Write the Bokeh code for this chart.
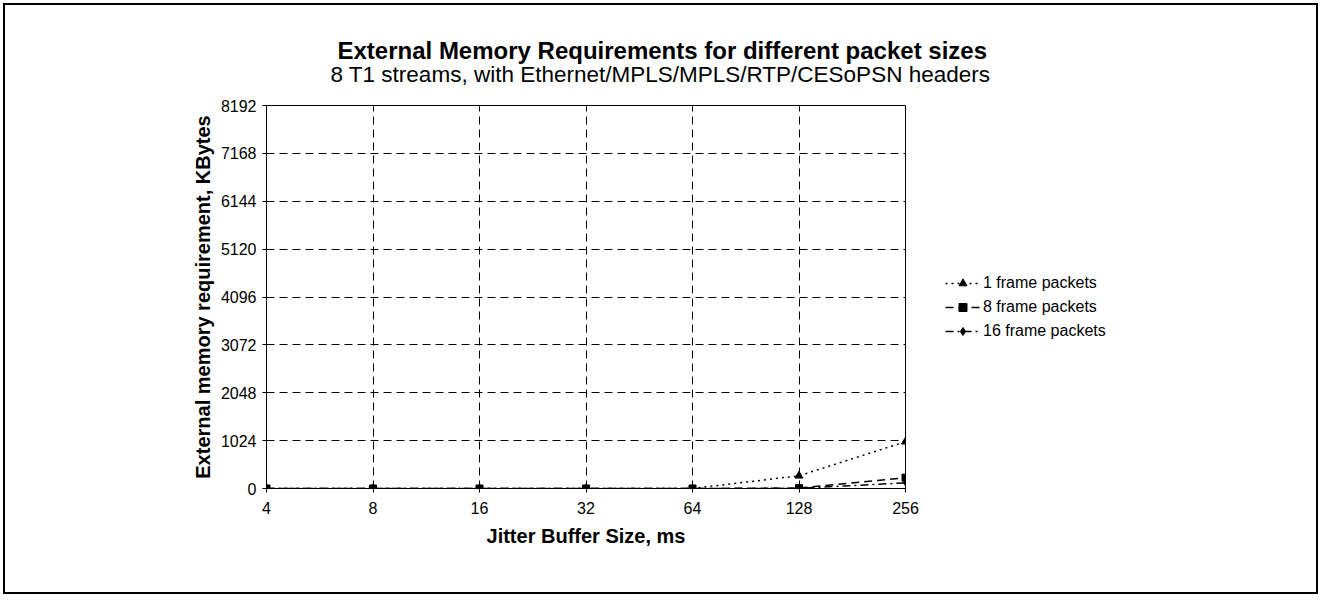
from bokeh.plotting import figure
from bokeh.models import Title, Legend, LegendItem, FixedTicker, Range1d
from bokeh.embed import file_html
from bokeh.resources import INLINE

# ---- data ----
jitter_labels = ["4", "8", "16", "32", "64", "128", "256"]
frame1 = [0, 0, 0, 0, 0, 272, 1000]
frame8 = [0, 0, 0, 0, 0, 8, 232]
frame16 = [0, 0, 0, 0, 0, 4, 120]
y_ticks = [0, 1024, 2048, 3072, 4096, 5120, 6144, 7168, 8192]
title_text = "External Memory Requirements for different packet sizes"
subtitle_text = "8 T1 streams, with Ethernet/MPLS/MPLS/RTP/CESoPSN headers"

xs = list(range(len(jitter_labels)))
FONT = "Liberation Sans"

p = figure(width=1315, height=591, output_backend="svg", toolbar_location=None,
           x_range=Range1d(0, len(jitter_labels) - 1), y_range=Range1d(0, 8192),
           min_border_left=261, min_border_right=415, min_border_top=100, min_border_bottom=108,
           background_fill_color="white", border_fill_color="white",
           outline_line_color="black", outline_line_width=1,
           styles={"border": "2px solid black", "margin": "3px 0 0 3px"})

p.add_layout(Title(text=subtitle_text, align="left", offset=64, standoff=38,
                   vertical_align="bottom",
                   text_font=FONT, text_font_size="22.5px", text_font_style="normal",
                   text_color="black"), "above")
p.add_layout(Title(text=title_text, align="left", offset=71, standoff=-46,
                   vertical_align="bottom",
                   text_font=FONT, text_font_size="24px", text_font_style="bold",
                   text_color="black"), "above")

# axes
p.xaxis.ticker = FixedTicker(ticks=xs)
p.xaxis.major_label_overrides = {i: lab for i, lab in enumerate(jitter_labels)}
p.yaxis.ticker = FixedTicker(ticks=y_ticks)
for ax in (p.xaxis[0], p.yaxis[0]):
    ax.axis_line_color = "black"
    ax.axis_line_width = 1
    ax.major_tick_line_color = "black"
    ax.major_tick_in = 0
    ax.major_tick_out = 4
    ax.minor_tick_line_color = None
    ax.major_label_text_font = FONT
    ax.major_label_text_font_size = "16px"
    ax.major_label_text_color = "black"
    ax.axis_label_text_font = FONT
    ax.axis_label_text_font_size = "20px"
    ax.axis_label_text_font_style = "bold"
    ax.axis_label_text_color = "black"
p.xaxis.axis_label = "Jitter Buffer Size, ms"
p.yaxis.axis_label = "External memory requirement, KBytes"
p.xaxis.major_label_standoff = 9
p.yaxis.major_label_standoff = 6
p.xaxis.axis_label_standoff = 8
p.yaxis.axis_label_standoff = 4

# grid
for g in (p.xgrid[0], p.ygrid[0]):
    g.grid_line_color = "black"
    g.grid_line_dash = "8 5"
    g.grid_line_width = 1

# series
l1 = p.line(xs, frame1, line_color="black", line_width=1.5, line_dash="2 4")
m1 = p.scatter(xs, frame1, marker="triangle", size=8, fill_color="black", line_color="black")
l8 = p.line(xs, frame8, line_color="black", line_width=1.5, line_dash="8 5")
m8 = p.scatter(xs, frame8, marker="square", size=7, fill_color="black", line_color="black")
l16 = p.line(xs, frame16, line_color="black", line_width=1.5, line_dash="8 4 2 4")
m16 = p.scatter(xs, frame16, marker="diamond", size=6, fill_color="black", line_color="black")

legend = Legend(items=[
    LegendItem(label="1 frame packets", renderers=[l1, m1]),
    LegendItem(label="8 frame packets", renderers=[l8, m8]),
    LegendItem(label="16 frame packets", renderers=[l16, m16]),
], location=(40, 147), orientation="vertical",
    border_line_color=None, background_fill_alpha=0,
    padding=0, margin=-106, spacing=4, glyph_width=35, glyph_height=20,
    label_standoff=3, label_text_font=FONT, label_text_font_size="16px",
    label_text_color="black", label_height=20)
p.add_layout(legend, "right")

open("out.html", "w").write(file_html(p, INLINE))
